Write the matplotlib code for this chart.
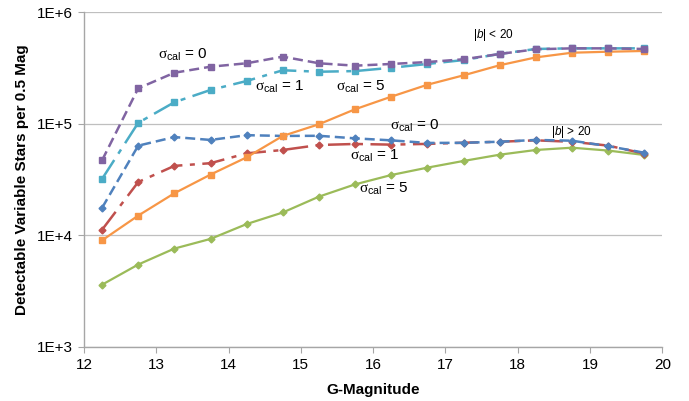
import math
import matplotlib
matplotlib.use("Agg")
import matplotlib.pyplot as plt
from matplotlib.ticker import FixedLocator, FuncFormatter

plt.rcParams['font.family'] = ['Liberation Sans', 'DejaVu Sans']
plt.rcParams['mathtext.fontset'] = 'custom'
plt.rcParams['mathtext.rm'] = 'Liberation Sans'
plt.rcParams['mathtext.it'] = 'Liberation Serif'  # upright serif sigma
plt.rcParams['mathtext.sf'] = 'Liberation Sans:italic'

# G magnitude bin centres
gmag = [12.25, 12.75, 13.25, 13.75, 14.25, 14.75, 15.25, 15.75,
        16.25, 16.75, 17.25, 17.75, 18.25, 18.75, 19.25, 19.75]

# |b| < 20
low_b_s0 = [47e3, 208e3, 287e3, 325e3, 349e3, 400e3, 349e3, 332e3,
            344e3, 358e3, 379e3, 423e3, 466e3, 475e3, 475e3, 469e3]
low_b_s1 = [32e3, 102e3, 156e3, 201e3, 242e3, 302e3, 293e3, 297e3,
            318e3, 344e3, 373e3, 423e3, 469e3, 475e3, 475e3, 475e3]
low_b_s5 = [9.0e3, 15e3, 23.8e3, 35e3, 50e3, 77.8e3, 99e3, 135e3,
            175e3, 224e3, 272e3, 335e3, 394e3, 434e3, 443e3, 450e3]

# |b| > 20
high_b_s0 = [17.6e3, 63.6e3, 76e3, 71.6e3, 79e3, 77.8e3, 78e3, 74e3,
             71e3, 67.3e3, 67.5e3, 69e3, 71.6e3, 70.5e3, 63e3, 55e3]
high_b_s1 = [11.2e3, 30e3, 41.9e3, 44.3e3, 54.3e3, 58.2e3, 64.5e3, 65.9e3,
             65e3, 66e3, 67.6e3, 69e3, 71e3, 69e3, 63.7e3, 54e3]
high_b_s5 = [3.6e3, 5.46e3, 7.59e3, 9.27e3, 12.6e3, 16e3, 22.2e3, 28.6e3,
             34.7e3, 40.4e3, 46.4e3, 52.8e3, 58.2e3, 61e3, 57.5e3, 52.5e3]

fig = plt.figure(figsize=(6.89, 4.01), dpi=100)
ax = fig.add_axes([0.1219, 0.1354, 0.8394, 0.8339])

grey = '#a6a6a6'
# |b| > 20 first (drawn underneath)
ax.plot(gmag, high_b_s5, color='#9BBB59', lw=1.6, marker='D', ms=3.5)
ax.plot(gmag, high_b_s1, color='#C0504D', lw=1.8, marker='D', ms=3.5,
        dashes=(9, 3, 2, 3))
ax.plot(gmag, high_b_s0, color='#4F81BD', lw=1.8, marker='D', ms=3.5,
        dashes=(4, 2))
ax.plot(gmag, low_b_s5, color='#F79646', lw=1.6, marker='s', ms=5)
ax.plot(gmag, low_b_s1, color='#4BACC6', lw=1.8, marker='s', ms=5,
        dashes=(9, 3, 2, 3))
ax.plot(gmag, low_b_s0, color='#8064A2', lw=1.8, marker='s', ms=5,
        dashes=(4, 2))

ax.set_yscale('log')
ax.set_xlim(12, 20)
ax.set_ylim(1e3, 1e6)
ax.xaxis.set_major_locator(FixedLocator(range(12, 21)))
ax.yaxis.set_major_locator(FixedLocator([1e3, 1e4, 1e5, 1e6]))
ax.yaxis.set_minor_locator(FixedLocator([]))
ax.yaxis.set_major_formatter(FuncFormatter(lambda v, p: '1E+%d' % round(math.log10(v))))
ax.grid(axis='y', color='#bfbfbf', lw=0.9)
ax.set_axisbelow(True)

for s in ['top', 'right']:
    ax.spines[s].set_visible(False)
for s in ['left', 'bottom']:
    ax.spines[s].set_color(grey)
    ax.spines[s].set_linewidth(1.0)
ax.tick_params(axis='both', direction='out', length=4, color=grey,
               labelsize=11, pad=4)

ax.set_xlabel('G-Magnitude', fontsize=11, fontweight='bold', labelpad=8)
ax.set_ylabel('Detectable Variable Stars per 0.5 Mag', fontsize=11,
              fontweight='bold', labelpad=6)

# curve labels
lab = dict(fontsize=11, ha='left', va='baseline')
ax.text(13.02, 3.85e5, r'$\sigma_{\mathrm{cal}}$ = 0', **lab)
ax.text(14.37, 1.99e5, r'$\sigma_{\mathrm{cal}}$ = 1', **lab)
ax.text(15.49, 1.97e5, r'$\sigma_{\mathrm{cal}}$ = 5', **lab)
ax.text(16.23, 8.8e4, r'$\sigma_{\mathrm{cal}}$ = 0', **lab)
ax.text(15.68, 4.78e4, r'$\sigma_{\mathrm{cal}}$ = 1', **lab)
ax.text(15.80, 2.42e4, r'$\sigma_{\mathrm{cal}}$ = 5', **lab)
ax.text(17.38, 5.94e5, r'|$\mathsf{b}$| < 20', fontsize=8.5, ha='left', va='baseline')
ax.text(18.46, 7.93e4, r'|$\mathsf{b}$| > 20', fontsize=8.5, ha='left', va='baseline')

fig.savefig('out.png', dpi=100)
